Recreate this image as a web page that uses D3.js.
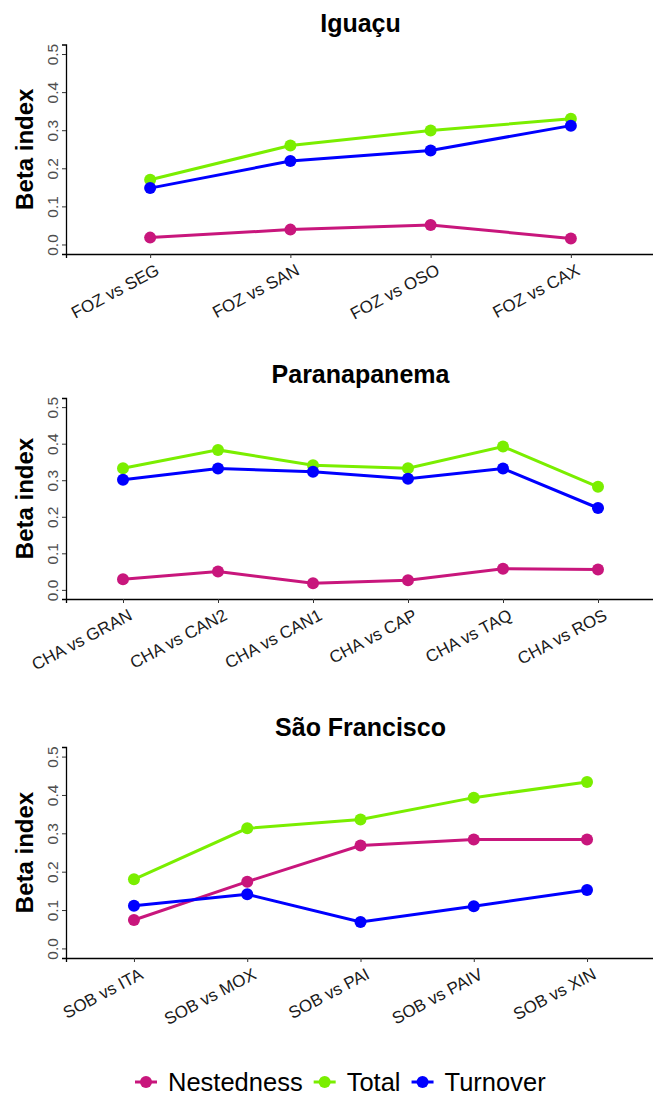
<!DOCTYPE html>
<html>
<head>
<meta charset="utf-8">
<script src="https://cdn.jsdelivr.net/npm/d3@7"></script>
<style>
body { margin: 0; background: #fff; }
text { font-family: "Liberation Sans", Arial, sans-serif; }
</style>
</head>
<body>
<script>
// data
var series = ["Nestedness", "Total", "Turnover"];
var colors = ["#C8167C", "#7AEE00", "#0000FF"];
var yTicks = [0, 0.1, 0.2, 0.3, 0.4, 0.5];

var iguacuSites = ["FOZ vs SEG", "FOZ vs SAN", "FOZ vs OSO", "FOZ vs CAX"];
var iguacuNested = [0.018, 0.039, 0.051, 0.016];
var iguacuTotal = [0.170, 0.260, 0.299, 0.330];
var iguacuTurnover = [0.148, 0.219, 0.247, 0.312];

var paranaSites = ["CHA vs GRAN", "CHA vs CAN2", "CHA vs CAN1", "CHA vs CAP", "CHA vs TAQ", "CHA vs ROS"];
var paranaNested = [0.029, 0.050, 0.018, 0.026, 0.058, 0.056];
var paranaTotal = [0.333, 0.383, 0.341, 0.333, 0.392, 0.282];
var paranaTurnover = [0.301, 0.332, 0.323, 0.304, 0.332, 0.224];

var sfSites = ["SOB vs ITA", "SOB vs MOX", "SOB vs PAI", "SOB vs PAIV", "SOB vs XIN"];
var sfNested = [0.074, 0.174, 0.268, 0.284, 0.284];
var sfTotal = [0.180, 0.313, 0.336, 0.393, 0.434];
var sfTurnover = [0.111, 0.141, 0.069, 0.110, 0.152];

window.onload = function() {
  var W = 653, H = 1098;
  var left = 66, right = 655;

  var panels = [
    {title: "Iguaçu", sites: iguacuSites, vals: [iguacuNested, iguacuTotal, iguacuTurnover], top: 44.5, bottom: 254, titleY: 32},
    {title: "Paranapanema", sites: paranaSites, vals: [paranaNested, paranaTotal, paranaTurnover], top: 398, bottom: 599, titleY: 383},
    {title: "São Francisco", sites: sfSites, vals: [sfNested, sfTotal, sfTurnover], top: 747, bottom: 958, titleY: 736}
  ];

  var svg = d3.select("body").append("svg")
    .attr("width", W)
    .attr("height", H);

  panels.forEach(function(p) {
    var x = d3.scalePoint()
      .domain(p.sites)
      .range([left, right])
      .padding(0.6);
    var y = d3.scaleLinear()
      .domain([-0.025, 0.525])
      .range([p.bottom, p.top]);

    var g = svg.append("g");

    g.append("text")
      .attr("x", (left + right) / 2)
      .attr("y", p.titleY)
      .attr("text-anchor", "middle")
      .style("font-size", "25px")
      .style("font-weight", "bold")
      .text(p.title);

    g.append("text")
      .attr("transform", "translate(33," + ((p.top + p.bottom) / 2) + ") rotate(-90)")
      .attr("text-anchor", "middle")
      .style("font-size", "24px")
      .style("font-weight", "bold")
      .text("Beta index");

    // y axis
    var ya = g.append("g")
      .attr("transform", "translate(" + left + ",0)")
      .call(d3.axisLeft(y).tickValues(yTicks).tickFormat(d3.format(".1f")).tickSizeOuter(0).tickSize(4));
    ya.select(".domain").attr("stroke", "#000").attr("stroke-width", 1.3);
    ya.selectAll(".tick line").attr("stroke", "#333");
    ya.selectAll(".tick text")
      .attr("x", null).attr("dy", null)
      .attr("transform", "translate(-8,0) rotate(-90)")
      .attr("text-anchor", "middle")
      .attr("fill", "#4d4d4d")
      .style("font-size", "15.5px");

    // x axis
    var xa = g.append("g")
      .attr("transform", "translate(0," + p.bottom + ")")
      .call(d3.axisBottom(x).tickSizeOuter(0).tickSize(4));
    xa.select(".domain").attr("stroke", "#000").attr("stroke-width", 1.3);
    xa.selectAll(".tick line").attr("stroke", "#333");
    xa.selectAll(".tick text")
      .attr("y", null).attr("dy", "0.72em")
      .attr("transform", "translate(4,9) rotate(-28)")
      .attr("text-anchor", "end")
      .attr("fill", "#1a1a1a")
      .style("font-size", "17px");

    var line = d3.line()
      .x(function(d, i) { return x(p.sites[i]); })
      .y(function(d) { return y(d); });

    p.vals.forEach(function(v, k) {
      g.append("path")
        .datum(v)
        .attr("d", line)
        .attr("fill", "none")
        .attr("stroke", colors[k])
        .attr("stroke-width", 3);
      g.selectAll(".pt" + k)
        .data(v)
        .enter().append("circle")
        .attr("cx", function(d, i) { return x(p.sites[i]); })
        .attr("cy", function(d) { return y(d); })
        .attr("r", 6)
        .attr("fill", colors[k]);
    });
  });

  // legend
  var lg = svg.append("g");
  var lx = 135, ly = 1082;
  series.forEach(function(s, k) {
    lg.append("line")
      .attr("x1", lx).attr("x2", lx + 22)
      .attr("y1", ly).attr("y2", ly)
      .attr("stroke", colors[k]).attr("stroke-width", 3);
    lg.append("circle")
      .attr("cx", lx + 11).attr("cy", ly).attr("r", 6)
      .attr("fill", colors[k]);
    var t = lg.append("text")
      .attr("x", lx + 33)
      .attr("y", ly + 9)
      .style("font-size", "25.5px")
      .text(s);
    lx = lx + 33 + t.node().getComputedTextLength() + 11;
  });
};
</script>
</body>
</html>
